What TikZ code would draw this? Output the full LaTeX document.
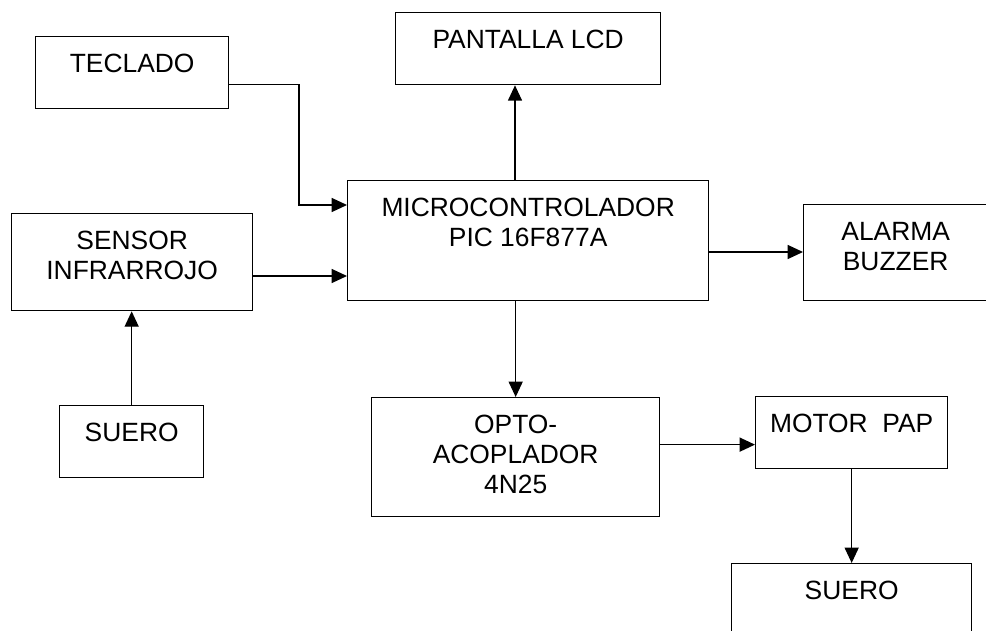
\documentclass[tikz,border=0pt]{standalone}
\usepackage{fontspec}
\setmainfont{Liberation Sans}
\usepackage{tikz}
\usetikzlibrary{positioning, arrows.meta}
\newcommand{\blockfont}{\fontsize{19.8pt}{22.5pt}\selectfont}

\begin{document}
\begin{tikzpicture}[x=0.75pt, y=-0.75pt,
    block/.style={draw, line width=1pt, anchor=north west, inner sep=0pt},
    blocktext/.style={anchor=north, inner sep=0pt, yshift=-13.5pt, align=center, font=\blockfont},
    link/.style={line width=1pt, -{Triangle[length=11.5pt, width=10.5pt]}}]
    \clip (0,0) rectangle (986,631);

    % Inputs
    \node[block, minimum width=193*0.75pt, minimum height=72*0.75pt,
        label={[blocktext]north:TECLADO}] (tec) at (35,36) {};
    \node[block, minimum width=241*0.75pt, minimum height=97*0.75pt,
        label={[blocktext]north:SENSOR\\INFRARROJO}] (sen) at (11,213) {};
    \node[block, minimum width=144*0.75pt, minimum height=72*0.75pt,
        label={[blocktext]north:SUERO}] (sueA) at (59,405) {};

    % Controller and outputs
    \node[block, minimum width=361*0.75pt, minimum height=120*0.75pt,
        label={[blocktext]north:MICROCONTROLADOR\\PIC 16F877A}] (mic) at (347,180) {};
    \node[block, minimum width=265*0.75pt, minimum height=72*0.75pt,
        label={[blocktext]north:PANTALLA LCD}] (lcd) at (395,12) {};
    \node[block, minimum width=200*0.75pt, minimum height=96*0.75pt,
        label={[blocktext, xshift=-6pt]north:ALARMA\\BUZZER}] (ala) at (803,204) {};
    \node[block, minimum width=288*0.75pt, minimum height=119*0.75pt,
        label={[blocktext]north:OPTO-\\ACOPLADOR\\4N25}] (opto) at (371,397) {};
    \node[block, minimum width=192*0.75pt, minimum height=72*0.75pt,
        label={[blocktext]north:MOTOR\ \ PAP}] (mot) at (755,396) {};
    \node[block, minimum width=240*0.75pt, minimum height=100*0.75pt,
        label={[blocktext]north:SUERO}] (sueB) at (731,563) {};

    % Connections
    \coordinate (tk) at (299,205);
    \draw[link] ([yshift=-9pt]tec.east) -| (tk) -- (tk -| mic.west);
    \draw[link] (sen.east |- 0,276) -- (mic.west |- 0,276);
    \draw[link] (sueA.north) -- (sueA.north |- sen.south);
    \draw[link] (mic.north -| 515,0) -- (lcd.south -| 515,0);
    \draw[link] (mic.east |- 0,252) -- (ala.west |- 0,252);
    \draw[link] (mic.south -| opto.north) -- (opto.north);
    \draw[link] ([yshift=9.4pt]opto.east) -- ([yshift=9.4pt]opto.east -| mot.west);
    \draw[link] (mot.south) -- (sueB.north);
\end{tikzpicture}
\end{document}
